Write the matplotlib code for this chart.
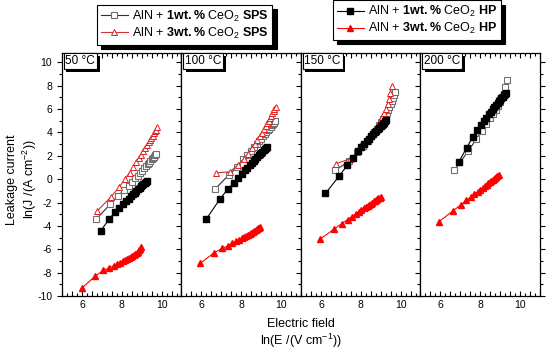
import matplotlib
matplotlib.use("Agg")
import matplotlib.pyplot as plt
import matplotlib.patheffects as pe
from matplotlib.ticker import MultipleLocator, FuncFormatter

plt.rcParams['font.family'] = ['Liberation Sans', 'DejaVu Sans']
plt.rcParams['mathtext.fontset'] = 'custom'
plt.rcParams['mathtext.rm'] = 'Liberation Sans'
plt.rcParams['mathtext.bf'] = 'Liberation Sans:bold'
plt.rcParams['axes.unicode_minus'] = False

temps = ['50 °C', '100 °C', '150 °C', '200 °C']

# 50 °C
t50_sps1_x = [6.73, 7.42, 7.83, 8.12, 8.34, 8.52, 8.68, 8.81, 8.93, 9.03, 9.13, 9.22, 9.30, 9.37, 9.44, 9.50, 9.56, 9.62, 9.67, 9.73]
t50_sps1_y = [-3.42, -2.14, -1.40, -0.92, -0.55, -0.23, 0.07, 0.31, 0.54, 0.74, 0.93, 1.11, 1.28, 1.42, 1.57, 1.69, 1.82, 1.94, 2.05, 2.18]
t50_sps3_x = [6.78, 7.47, 7.88, 8.17, 8.39, 8.57, 8.73, 8.86, 8.98, 9.08, 9.18, 9.27, 9.35, 9.42, 9.49, 9.55, 9.61, 9.67, 9.72, 9.78]
t50_sps3_y = [-2.70, -1.50, -0.66, 0.02, 0.57, 1.02, 1.44, 1.79, 2.11, 2.39, 2.67, 2.92, 3.15, 3.36, 3.56, 3.74, 3.92, 4.10, 4.25, 4.43]
t50_hp1_x = [6.95, 7.36, 7.64, 7.87, 8.05, 8.20, 8.34, 8.45, 8.56, 8.65, 8.74, 8.82, 8.90, 8.97, 9.03, 9.09, 9.15, 9.20, 9.25]
t50_hp1_y = [-4.40, -3.45, -2.85, -2.45, -2.15, -1.90, -1.66, -1.47, -1.29, -1.14, -0.99, -0.86, -0.73, -0.61, -0.51, -0.41, -0.31, -0.22, -0.14]
t50_hp3_x = [5.98, 6.67, 7.08, 7.37, 7.59, 7.77, 7.93, 8.06, 8.18, 8.28, 8.38, 8.46, 8.54, 8.62, 8.69, 8.75, 8.81, 8.87, 8.92, 8.98]
t50_hp3_y = [-9.35, -8.30, -7.80, -7.60, -7.42, -7.27, -7.14, -7.03, -6.94, -6.85, -6.76, -6.68, -6.59, -6.50, -6.41, -6.32, -6.22, -6.10, -5.98, -5.85]

# 100 °C
t100_sps1_x = [6.70, 7.39, 7.80, 8.09, 8.31, 8.49, 8.65, 8.78, 8.90, 9.00, 9.10, 9.18, 9.26, 9.34, 9.41, 9.47, 9.53, 9.59, 9.64, 9.70]
t100_sps1_y = [-0.83, 0.40, 1.05, 1.70, 2.10, 2.44, 2.76, 3.01, 3.26, 3.46, 3.67, 3.84, 4.01, 4.18, 4.34, 4.47, 4.60, 4.74, 4.85, 4.99]
t100_sps3_x = [6.73, 7.42, 7.83, 8.12, 8.34, 8.52, 8.68, 8.81, 8.93, 9.03, 9.13, 9.22, 9.30, 9.37, 9.44, 9.50, 9.56, 9.62, 9.67, 9.73]
t100_sps3_y = [0.54, 0.63, 1.20, 1.75, 2.20, 2.63, 3.03, 3.37, 3.70, 3.99, 4.28, 4.55, 4.80, 5.02, 5.24, 5.43, 5.63, 5.83, 6.00, 6.20]
t100_hp1_x = [6.23, 6.92, 7.33, 7.62, 7.84, 8.02, 8.18, 8.31, 8.43, 8.53, 8.63, 8.71, 8.79, 8.87, 8.94, 9.00, 9.06, 9.12, 9.17, 9.23, 9.27]
t100_hp1_y = [-3.45, -1.73, -0.83, -0.32, 0.14, 0.47, 0.76, 1.00, 1.22, 1.40, 1.59, 1.73, 1.88, 2.03, 2.15, 2.26, 2.37, 2.48, 2.57, 2.68, 2.76]
t100_hp3_x = [5.95, 6.64, 7.05, 7.34, 7.56, 7.74, 7.90, 8.03, 8.15, 8.25, 8.35, 8.43, 8.51, 8.59, 8.66, 8.72, 8.78, 8.84, 8.89, 8.95]
t100_hp3_y = [-7.20, -6.30, -5.93, -5.70, -5.50, -5.33, -5.18, -5.06, -4.95, -4.85, -4.75, -4.67, -4.59, -4.51, -4.43, -4.36, -4.28, -4.21, -4.14, -4.07]

# 150 °C
t150_sps1_x = [6.73, 7.42, 7.83, 8.12, 8.34, 8.52, 8.68, 8.81, 8.93, 9.03, 9.13, 9.22, 9.30, 9.37, 9.44, 9.50, 9.56, 9.62, 9.67, 9.73]
t150_sps1_y = [0.77, 1.55, 2.30, 2.85, 3.30, 3.68, 4.03, 4.33, 4.62, 4.88, 5.15, 5.42, 5.67, 5.90, 6.15, 6.40, 6.67, 6.95, 7.20, 7.50]
t150_sps3_x = [6.78, 7.47, 7.88, 8.17, 8.39, 8.57, 8.73, 8.86, 8.98, 9.08, 9.18, 9.27, 9.35, 9.42, 9.49, 9.55]
t150_sps3_y = [1.34, 1.75, 2.45, 3.00, 3.45, 3.85, 4.25, 4.60, 4.95, 5.30, 5.65, 6.05, 6.45, 6.90, 7.40, 7.95]
t150_hp1_x = [6.23, 6.92, 7.33, 7.62, 7.84, 8.02, 8.18, 8.31, 8.43, 8.53, 8.63, 8.71, 8.79, 8.87, 8.94, 9.00, 9.06, 9.12, 9.17, 9.23, 9.27]
t150_hp1_y = [-1.22, 0.28, 1.20, 1.82, 2.39, 2.72, 3.02, 3.26, 3.48, 3.67, 3.85, 4.00, 4.15, 4.29, 4.42, 4.53, 4.65, 4.76, 4.85, 4.96, 5.04]
t150_hp3_x = [5.95, 6.64, 7.05, 7.34, 7.56, 7.74, 7.90, 8.03, 8.15, 8.25, 8.35, 8.43, 8.51, 8.59, 8.66, 8.72, 8.78, 8.84, 8.89, 8.95, 9.00]
t150_hp3_y = [-5.15, -4.30, -3.80, -3.46, -3.20, -2.99, -2.81, -2.65, -2.51, -2.40, -2.28, -2.18, -2.09, -2.00, -1.91, -1.84, -1.77, -1.70, -1.64, -1.57, -1.51]

# 200 °C
t200_sps1_x = [6.70, 7.39, 7.80, 8.09, 8.31, 8.49, 8.65, 8.78, 8.90, 9.00, 9.10, 9.18, 9.26, 9.34]
t200_sps1_y = [0.77, 2.39, 3.42, 4.15, 4.75, 5.20, 5.60, 5.95, 6.30, 6.60, 7.00, 7.30, 7.90, 8.46]
t200_hp1_x = [6.92, 7.33, 7.62, 7.84, 8.02, 8.18, 8.31, 8.43, 8.53, 8.63, 8.71, 8.79, 8.87, 8.94, 9.00, 9.06, 9.12, 9.17, 9.23, 9.27]
t200_hp1_y = [1.48, 2.71, 3.62, 4.25, 4.65, 5.00, 5.28, 5.55, 5.77, 5.99, 6.16, 6.34, 6.51, 6.67, 6.80, 6.93, 7.06, 7.17, 7.30, 7.40]
t200_hp3_x = [5.92, 6.61, 7.02, 7.31, 7.53, 7.71, 7.87, 8.00, 8.12, 8.22, 8.32, 8.40, 8.48, 8.56, 8.63, 8.69, 8.75, 8.81, 8.86, 8.92]
t200_hp3_y = [-3.65, -2.74, -2.20, -1.81, -1.52, -1.28, -1.06, -0.89, -0.73, -0.59, -0.46, -0.35, -0.24, -0.14, -0.04, 0.04, 0.12, 0.19, 0.26, 0.34]

sps1 = [(t50_sps1_x, t50_sps1_y), (t100_sps1_x, t100_sps1_y), (t150_sps1_x, t150_sps1_y), (t200_sps1_x, t200_sps1_y)]
sps3 = [(t50_sps3_x, t50_sps3_y), (t100_sps3_x, t100_sps3_y), (t150_sps3_x, t150_sps3_y), None]
hp1 = [(t50_hp1_x, t50_hp1_y), (t100_hp1_x, t100_hp1_y), (t150_hp1_x, t150_hp1_y), (t200_hp1_x, t200_hp1_y)]
hp3 = [(t50_hp3_x, t50_hp3_y), (t100_hp3_x, t100_hp3_y), (t150_hp3_x, t150_hp3_y), (t200_hp3_x, t200_hp3_y)]

lab_sps1 = r'AlN + $\mathbf{1wt.\%}$ CeO$_2$ $\mathbf{SPS}$'
lab_sps3 = r'AlN + $\mathbf{3wt.\%}$ CeO$_2$ $\mathbf{SPS}$'
lab_hp1 = r'AlN + $\mathbf{1wt.\%}$ CeO$_2$ $\mathbf{HP}$'
lab_hp3 = r'AlN + $\mathbf{3wt.\%}$ CeO$_2$ $\mathbf{HP}$'

fig = plt.figure(figsize=(5.5, 3.54), dpi=100)
axs = fig.subplots(1, 4, sharey=True, gridspec_kw=dict(wspace=0))
fig.subplots_adjust(left=0.1127, right=0.9818, top=0.850, bottom=0.164)

st_sps1 = dict(color='#303030', lw=0.8, marker='s', ms=4.3, mfc='white', mec='#707070', mew=0.8)
st_sps3 = dict(color='#d03030', lw=0.8, marker='^', ms=5, mfc='white', mec='#e02020', mew=0.7)
st_hp1 = dict(color='black', lw=0.8, marker='s', ms=4.3, mfc='black', mec='black')
st_hp3 = dict(color='#ff0000', lw=0.8, marker='^', ms=5, mfc='#ff0000', mec='#ff0000')

def xfmt(v, pos):
    return '%d' % v if abs(v - round(v)) < 1e-6 and int(round(v)) in (6, 8, 10) else ''

handles = {}
for i, ax in enumerate(axs):
    if sps1[i]:
        handles['s1'], = ax.plot(*sps1[i], **st_sps1)
    if sps3[i]:
        handles['s3'], = ax.plot(*sps3[i], **st_sps3)
    handles['h1'], = ax.plot(*hp1[i], **st_hp1)
    handles['h3'], = ax.plot(*hp3[i], **st_hp3)

    ax.set_xlim(5, 11)
    ax.set_ylim(-10, 10.8)
    ax.xaxis.set_major_locator(MultipleLocator(0.5))
    ax.xaxis.set_minor_locator(MultipleLocator(0.25))
    ax.xaxis.set_major_formatter(FuncFormatter(xfmt))
    ax.yaxis.set_major_locator(MultipleLocator(2))
    ax.yaxis.set_minor_locator(MultipleLocator(1))
    ax.tick_params(axis='x', which='both', direction='in', top=True, bottom=True,
                   labelsize=7.5, pad=3, width=0.8)
    ax.tick_params(axis='x', which='major', length=3.5)
    ax.tick_params(axis='x', which='minor', length=2)
    ax.tick_params(axis='y', which='both', direction='out', left=True,
                   right=(i == 3), labelsize=7.5, width=0.8)
    ax.tick_params(axis='y', which='major', length=3.5)
    ax.tick_params(axis='y', which='minor', length=2)
    for sp in ax.spines.values():
        sp.set_linewidth(0.9)

    # temperature label, box with a black drop shadow
    t = ax.annotate(temps[i], xy=(0, 1), xycoords='axes fraction', xytext=(2.5, -1.5),
                    textcoords='offset points', ha='left', va='top', fontsize=8.5,
                    bbox=dict(boxstyle='square,pad=0.15', fc='white', ec='black', lw=0.8))
    t.get_bbox_patch().set_path_effects([
        pe.SimplePatchShadow(offset=(2, -2), shadow_rgbFace='black', alpha=1),
        pe.Normal()])

leg_kw = dict(loc='upper left', fontsize=9, handlelength=2.2, handletextpad=0.3,
              labelspacing=0.15, borderpad=0.3, borderaxespad=0, fancybox=False,
              edgecolor='black', framealpha=1,
              shadow={'color': 'black', 'alpha': 1, 'ox': 3, 'oy': -3})
leg1 = fig.legend([handles['s1'], handles['s3']], [lab_sps1, lab_sps3],
                  bbox_to_anchor=(0.176, 0.986), **leg_kw)
leg1.get_frame().set_linewidth(0.8)
leg2 = fig.legend([handles['h1'], handles['h3']], [lab_hp1, lab_hp3],
                  bbox_to_anchor=(0.605, 0.999), **leg_kw)
leg2.get_frame().set_linewidth(0.8)

fig.text(0.022, 0.493, 'Leakage current', rotation=90, ha='center', va='center', fontsize=9)
fig.text(0.055, 0.493, r'ln(J /(A cm$^{-2}$))', rotation=90, ha='center', va='center', fontsize=9)
fig.text(0.547, 0.085, 'Electric field', ha='center', va='center', fontsize=9)
fig.text(0.547, 0.037, r'ln(E /(V cm$^{-1}$))', ha='center', va='center', fontsize=9)

fig.savefig('out.png', dpi=100)
